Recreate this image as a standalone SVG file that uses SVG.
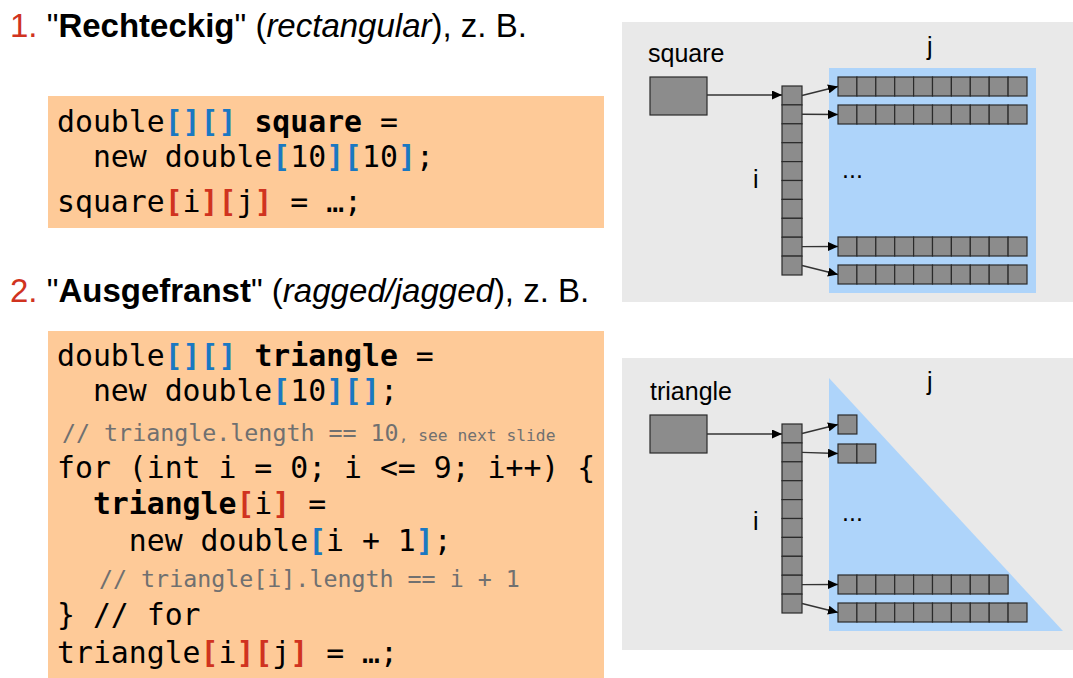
<svg xmlns="http://www.w3.org/2000/svg" width="1073" height="678" viewBox="0 0 1073 678">
<style>
.title{font-family:"Liberation Sans",Arial,sans-serif;font-size:33px;fill:#000}
.num{fill:#D0331F}
.code{font-family:"DejaVu Sans Mono",monospace;font-size:29.8px;fill:#000}
.b{font-weight:bold}
.bl{fill:#1A78C2;font-weight:bold}
.rd{fill:#D0331F;font-weight:bold}
.cm{font-family:"DejaVu Sans Mono",monospace;font-size:23.3px;fill:#707070}
.cms{font-size:16.3px}
.box{fill:#FECA98}
.panel{fill:#E9E9E9}
.area{fill:#AED4FA}
.cell{fill:#8C8C8C;stroke:#2A2A2A;stroke-width:1.2}
.lbl{font-family:"Liberation Sans",Arial,sans-serif;font-size:25px;fill:#000}
.con{stroke:#333;stroke-width:1.4;fill:none;marker-end:url(#ah)}
</style>
<defs>
<marker id="ah" markerUnits="userSpaceOnUse" markerWidth="11" markerHeight="9" refX="10" refY="4.5" orient="auto">
<path d="M0,0 L10,4.5 L0,9 z" fill="#000"/>
</marker>
</defs>
<rect width="1073" height="678" fill="#fff"/>

<g id="title1">
<text class="title" x="10" y="37" xml:space="preserve"><tspan class="num">1.</tspan> "<tspan font-weight="bold">Rechteckig</tspan>" (<tspan font-style="italic">rectangular</tspan>), z. B.</text>
</g>
<g id="code1">
<rect class="box" x="48" y="96" width="556" height="132"/>
<text class="code" x="57" y="132" xml:space="preserve">double<tspan class="bl">[]</tspan><tspan class="bl">[]</tspan> <tspan class="b">square</tspan> =</text>
<text class="code" x="57" y="167" xml:space="preserve">  new double<tspan class="bl">[</tspan>10<tspan class="bl">]</tspan><tspan class="bl">[</tspan>10<tspan class="bl">]</tspan>;</text>
<text class="code" x="57" y="212" xml:space="preserve">square<tspan class="rd">[</tspan>i<tspan class="rd">]</tspan><tspan class="rd">[</tspan>j<tspan class="rd">]</tspan> = …;</text>
</g>

<g id="title2">
<text class="title" x="10" y="302" xml:space="preserve"><tspan class="num">2.</tspan> "<tspan font-weight="bold">Ausgefranst</tspan>" (<tspan font-style="italic">ragged/jagged</tspan>), z. B.</text>
</g>
<g id="code2">
<rect class="box" x="48" y="331" width="556" height="347"/>
<text class="code" x="57" y="366" xml:space="preserve">double<tspan class="bl">[]</tspan><tspan class="bl">[]</tspan> <tspan class="b">triangle</tspan> =</text>
<text class="code" x="57" y="401" xml:space="preserve">  new double<tspan class="bl">[</tspan>10<tspan class="bl">]</tspan><tspan class="bl">[]</tspan>;</text>
<text class="cm" x="62" y="441" xml:space="preserve">// triangle.length == 10<tspan class="cms">, see next slide</tspan></text>
<text class="code" x="57" y="478" xml:space="preserve">for (int i = 0; i &lt;= 9; i++) {</text>
<text class="code" x="57" y="514" xml:space="preserve">  <tspan class="b">triangle</tspan><tspan class="rd">[</tspan>i<tspan class="rd">]</tspan> =</text>
<text class="code" x="57" y="551" xml:space="preserve">    new double<tspan class="bl">[</tspan>i + 1<tspan class="bl">]</tspan>;</text>
<text class="cm" x="99" y="587" xml:space="preserve">// triangle[i].length == i + 1</text>
<text class="code" x="57" y="625" xml:space="preserve">} // for</text>
<text class="code" x="57" y="663" xml:space="preserve">triangle<tspan class="rd">[</tspan>i<tspan class="rd">]</tspan><tspan class="rd">[</tspan>j<tspan class="rd">]</tspan> = …;</text>
</g>

<g id="panel-square">
<rect class="panel" x="622" y="22" width="451" height="280"/>
<rect class="area" x="829" y="68" width="207" height="225"/>
<text class="lbl" x="648" y="62">square</text>
<text class="lbl" x="927" y="55">j</text>
<text class="lbl" x="753" y="188">i</text>
<text class="lbl" x="842" y="178">...</text>
</g>
<g id="square-ref"><rect class="cell" x="650" y="77" width="57" height="38"/></g>
<g id="square-index">
<rect class="cell" x="782" y="86" width="20" height="18.9"/>
<rect class="cell" x="782" y="104.9" width="20" height="18.9"/>
<rect class="cell" x="782" y="123.8" width="20" height="18.9"/>
<rect class="cell" x="782" y="142.7" width="20" height="18.9"/>
<rect class="cell" x="782" y="161.6" width="20" height="18.9"/>
<rect class="cell" x="782" y="180.5" width="20" height="18.9"/>
<rect class="cell" x="782" y="199.4" width="20" height="18.9"/>
<rect class="cell" x="782" y="218.3" width="20" height="18.9"/>
<rect class="cell" x="782" y="237.2" width="20" height="18.9"/>
<rect class="cell" x="782" y="256.1" width="20" height="18.9"/>
</g>
<g id="square-row0">
<rect class="cell" x="838" y="77" width="18.9" height="19"/><rect class="cell" x="856.9" y="77" width="18.9" height="19"/><rect class="cell" x="875.8" y="77" width="18.9" height="19"/><rect class="cell" x="894.7" y="77" width="18.9" height="19"/><rect class="cell" x="913.6" y="77" width="18.9" height="19"/><rect class="cell" x="932.5" y="77" width="18.9" height="19"/><rect class="cell" x="951.4" y="77" width="18.9" height="19"/><rect class="cell" x="970.3" y="77" width="18.9" height="19"/><rect class="cell" x="989.2" y="77" width="18.9" height="19"/><rect class="cell" x="1008.1" y="77" width="18.9" height="19"/>
</g>
<g id="square-row1">
<rect class="cell" x="838" y="105" width="18.9" height="19"/><rect class="cell" x="856.9" y="105" width="18.9" height="19"/><rect class="cell" x="875.8" y="105" width="18.9" height="19"/><rect class="cell" x="894.7" y="105" width="18.9" height="19"/><rect class="cell" x="913.6" y="105" width="18.9" height="19"/><rect class="cell" x="932.5" y="105" width="18.9" height="19"/><rect class="cell" x="951.4" y="105" width="18.9" height="19"/><rect class="cell" x="970.3" y="105" width="18.9" height="19"/><rect class="cell" x="989.2" y="105" width="18.9" height="19"/><rect class="cell" x="1008.1" y="105" width="18.9" height="19"/>
</g>
<g id="square-row8">
<rect class="cell" x="838" y="237" width="18.9" height="19"/><rect class="cell" x="856.9" y="237" width="18.9" height="19"/><rect class="cell" x="875.8" y="237" width="18.9" height="19"/><rect class="cell" x="894.7" y="237" width="18.9" height="19"/><rect class="cell" x="913.6" y="237" width="18.9" height="19"/><rect class="cell" x="932.5" y="237" width="18.9" height="19"/><rect class="cell" x="951.4" y="237" width="18.9" height="19"/><rect class="cell" x="970.3" y="237" width="18.9" height="19"/><rect class="cell" x="989.2" y="237" width="18.9" height="19"/><rect class="cell" x="1008.1" y="237" width="18.9" height="19"/>
</g>
<g id="square-row9">
<rect class="cell" x="838" y="265" width="18.9" height="19"/><rect class="cell" x="856.9" y="265" width="18.9" height="19"/><rect class="cell" x="875.8" y="265" width="18.9" height="19"/><rect class="cell" x="894.7" y="265" width="18.9" height="19"/><rect class="cell" x="913.6" y="265" width="18.9" height="19"/><rect class="cell" x="932.5" y="265" width="18.9" height="19"/><rect class="cell" x="951.4" y="265" width="18.9" height="19"/><rect class="cell" x="970.3" y="265" width="18.9" height="19"/><rect class="cell" x="989.2" y="265" width="18.9" height="19"/><rect class="cell" x="1008.1" y="265" width="18.9" height="19"/>
</g>

<g id="panel-triangle">
<rect class="panel" x="622" y="358" width="451" height="292"/>
<polygon class="area" points="829,378 829,631 1063,631"/>
<text class="lbl" x="650" y="400" font-size="26">triangle</text>
<text class="lbl" x="927" y="390">j</text>
<text class="lbl" x="753" y="530">i</text>
<text class="lbl" x="842" y="521">...</text>
</g>
<g id="triangle-ref"><rect class="cell" x="650" y="415" width="57" height="38"/></g>
<g id="triangle-index">
<rect class="cell" x="782" y="424" width="20" height="18.9"/>
<rect class="cell" x="782" y="442.9" width="20" height="18.9"/>
<rect class="cell" x="782" y="461.8" width="20" height="18.9"/>
<rect class="cell" x="782" y="480.7" width="20" height="18.9"/>
<rect class="cell" x="782" y="499.6" width="20" height="18.9"/>
<rect class="cell" x="782" y="518.5" width="20" height="18.9"/>
<rect class="cell" x="782" y="537.4" width="20" height="18.9"/>
<rect class="cell" x="782" y="556.3" width="20" height="18.9"/>
<rect class="cell" x="782" y="575.2" width="20" height="18.9"/>
<rect class="cell" x="782" y="594.1" width="20" height="18.9"/>
</g>
<g id="triangle-row0">
<rect class="cell" x="838" y="415" width="18.9" height="19"/>
</g>
<g id="triangle-row1">
<rect class="cell" x="838" y="444" width="18.9" height="19"/><rect class="cell" x="856.9" y="444" width="18.9" height="19"/>
</g>
<g id="triangle-row8">
<rect class="cell" x="838" y="575" width="18.9" height="19"/><rect class="cell" x="856.9" y="575" width="18.9" height="19"/><rect class="cell" x="875.8" y="575" width="18.9" height="19"/><rect class="cell" x="894.7" y="575" width="18.9" height="19"/><rect class="cell" x="913.6" y="575" width="18.9" height="19"/><rect class="cell" x="932.5" y="575" width="18.9" height="19"/><rect class="cell" x="951.4" y="575" width="18.9" height="19"/><rect class="cell" x="970.3" y="575" width="18.9" height="19"/><rect class="cell" x="989.2" y="575" width="18.9" height="19"/>
</g>
<g id="triangle-row9">
<rect class="cell" x="838" y="603" width="18.9" height="19"/><rect class="cell" x="856.9" y="603" width="18.9" height="19"/><rect class="cell" x="875.8" y="603" width="18.9" height="19"/><rect class="cell" x="894.7" y="603" width="18.9" height="19"/><rect class="cell" x="913.6" y="603" width="18.9" height="19"/><rect class="cell" x="932.5" y="603" width="18.9" height="19"/><rect class="cell" x="951.4" y="603" width="18.9" height="19"/><rect class="cell" x="970.3" y="603" width="18.9" height="19"/><rect class="cell" x="989.2" y="603" width="18.9" height="19"/><rect class="cell" x="1008.1" y="603" width="18.9" height="19"/>
</g>

<g id="connectors">
<line class="con" x1="707" y1="95" x2="782" y2="95"/>
<line class="con" x1="802" y1="95.5" x2="838" y2="86.5"/>
<line class="con" x1="802" y1="114.3" x2="838" y2="114.5"/>
<line class="con" x1="802" y1="246.6" x2="838" y2="246.5"/>
<line class="con" x1="802" y1="265.5" x2="838" y2="274.5"/>
<line class="con" x1="707" y1="434" x2="782" y2="434"/>
<line class="con" x1="802" y1="433.5" x2="838" y2="424.5"/>
<line class="con" x1="802" y1="452.4" x2="838" y2="453.5"/>
<line class="con" x1="802" y1="584.6" x2="838" y2="584.5"/>
<line class="con" x1="802" y1="603.5" x2="838" y2="612.5"/>
</g>
</svg>
